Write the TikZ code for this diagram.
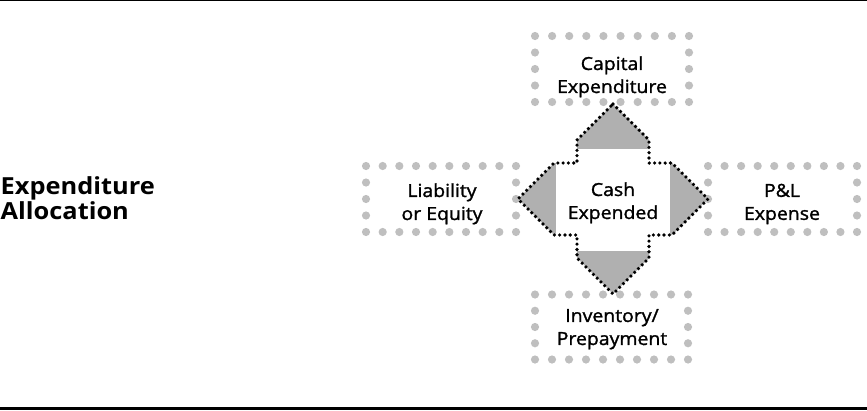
\documentclass[tikz,border=0pt]{standalone}
\usepackage{fontspec}
\setmainfont{Open Sans}
\newfontfamily\medsans{Open Sans}[FakeBold=1.5,FakeStretch=1.08]
\newfontfamily\ttlsans{Open Sans Bold}[FakeStretch=1.08]
\usetikzlibrary{calc}
\newcommand\dotframe[2]{% node name, number of gaps across
  \foreach \i in {0,...,#2}{%
    \fill[boxdot] ($(#1.north west)!\i/#2!(#1.north east)$) circle (4.1pt);
    \fill[boxdot] ($(#1.south west)!\i/#2!(#1.south east)$) circle (4.1pt);
  }
  \foreach \j in {1,2,3}{%
    \fill[boxdot] ($(#1.north west)!\j/4!(#1.south west)$) circle (4.1pt);
    \fill[boxdot] ($(#1.north east)!\j/4!(#1.south east)$) circle (4.1pt);
  }
}
\begin{document}
\begin{tikzpicture}[x=1pt,y=-1pt,
  frame/.style={draw=none, inner sep=0pt, outer sep=0pt},
  lbl/.style={align=center, inner sep=0pt, font=\medsans\fontsize{18}{23}\selectfont},
  ttl/.style={align=left, inner sep=0pt, anchor=west, font=\ttlsans\fontsize{23.5}{25}\selectfont},
  boxdot/.style={fill=black!25},
  armfill/.style={fill=black!31},
  rim/.style={draw=black, line width=3.6pt, dash pattern=on 0pt off 5.3pt, line cap=round},
  rule/.style={draw=black}
]
\useasboundingbox (0,0) rectangle (867,410);
% rules
\coordinate (tl) at (0,0.7);
\coordinate (tr) at (867,0.7);
\coordinate (bl) at (0,408.4);
\coordinate (br) at (867,408.4);
\draw[rule, line width=1.4pt] (tl) -- (tr);
\draw[rule, line width=3.3pt] (bl) -- (br);

% dotted frames
\node[frame, minimum width=154pt, minimum height=66pt] (capF) at (612,69) {};
\node[frame, minimum width=150pt, minimum height=66pt] (liabF) at (441,199) {};
\node[frame, minimum width=149pt, minimum height=66pt] (plF) at (782.5,199) {};
\node[frame, minimum width=153pt, minimum height=65pt] (invF) at (611.5,327) {};
\dotframe{capF}{9}
\dotframe{liabF}{9}
\dotframe{plF}{9}
\dotframe{invF}{9}

% central cross of arrows
\coordinate (ctr) at (613,199);
\begin{scope}[shift={(ctr)}]
  \fill[armfill] (0,-95) -- (36,-59) -- (36,-36) -- (59,-36) -- (95,0) -- (59,36) -- (36,36) -- (36,59)
     -- (0,95) -- (-36,59) -- (-36,36) -- (-59,36) -- (-95,0) -- (-59,-36) -- (-36,-36) -- (-36,-59) -- cycle;
  \fill[white] (-57,-50) rectangle (57,52);
  \draw[rim] (0,-95) -- (36,-59) -- (36,-36) -- (59,-36) -- (95,0) -- (59,36) -- (36,36) -- (36,59)
     -- (0,95) -- (-36,59) -- (-36,36) -- (-59,36) -- (-95,0) -- (-59,-36) -- (-36,-36) -- (-36,-59) -- cycle;
\end{scope}

% labels
\node[ttl] (title) at (0.5,198.5) {Expenditure\\Allocation};
\node[lbl] (cap) at (612,76.8) {Capital\\Expenditure};
\node[lbl] (liab) at (442,203.8) {Liability\\or Equity};
\node[lbl] (pl) at (782,204) {P\&L\\Expense};
\node[lbl] (cash) at (613,202.8) {Cash\\Expended};
\node[lbl] (inv) at (612,329.2) {Inventory/\\Prepayment};
\end{tikzpicture}
\end{document}
